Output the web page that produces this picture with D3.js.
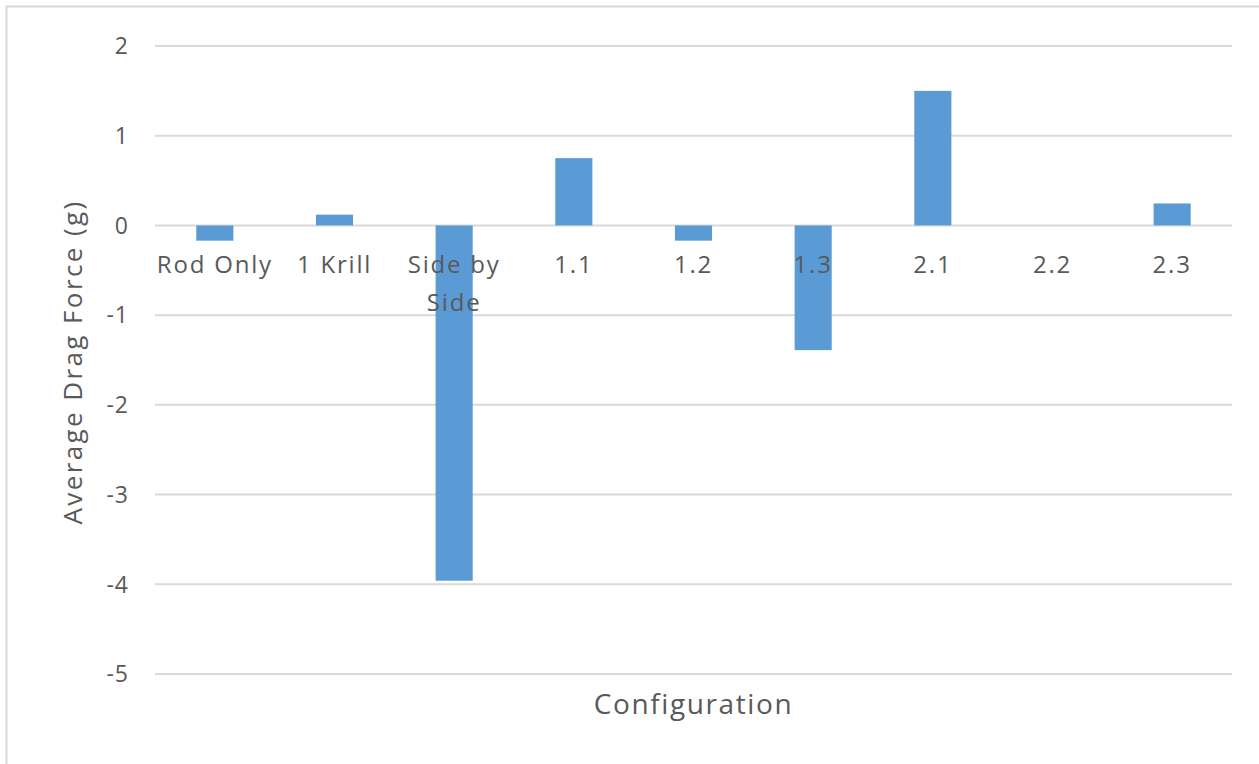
<!DOCTYPE html>
<html>
<head>
<meta charset="utf-8">
<script src="https://cdn.jsdelivr.net/npm/d3@7"></script>
<style>
  html, body { margin: 0; padding: 0; background: #fff; }
  svg { display: block; }
</style>
</head>
<body>
<svg id="chart"></svg>
<script>
// data
const categories = ["Rod Only", "1 Krill", "Side by Side", "1.1", "1.2", "1.3", "2.1", "2.2", "2.3"];
const dragForce = [-0.17, 0.12, -3.96, 0.75, -0.17, -1.39, 1.50, 0, 0.245];
const yTicks = [2, 1, 0, -1, -2, -3, -4, -5];

const width = 1259, height = 764;
const margin = { top: 46, right: 27, bottom: 90, left: 155 };

const font = "'Open Sans', 'Noto Sans', sans-serif";
const textColor = "#595959";

const svg = d3.select("#chart")
    .attr("width", width)
    .attr("height", height)
    .style("font-family", font);

// outer chart frame
svg.append("rect")
    .attr("x", 6.5).attr("y", 6.5)
    .attr("width", width + 20).attr("height", height + 20)
    .attr("fill", "#fff")
    .attr("stroke", "#d9d9d9")
    .attr("stroke-width", 2);

const x = d3.scaleBand()
    .domain(categories)
    .range([margin.left, width - margin.right])
    .paddingInner(0.69)
    .paddingOuter(0.345);

const y = d3.scaleLinear()
    .domain([-5, 2])
    .range([height - margin.bottom, margin.top]);

// gridlines
svg.append("g")
    .selectAll("line")
    .data(yTicks)
    .join("line")
    .attr("x1", margin.left)
    .attr("x2", width - margin.right)
    .attr("y1", d => y(d))
    .attr("y2", d => y(d))
    .attr("stroke", "#d9d9d9")
    .attr("stroke-width", 2);

// y tick labels
svg.append("g")
    .attr("text-anchor", "end")
    .selectAll("text")
    .data(yTicks)
    .join("text")
    .attr("x", 129)
    .attr("y", d => y(d))
    .attr("dy", "0.36em")
    .attr("fill", textColor)
    .style("font-size", "23px")
    .style("letter-spacing", "1px")
    .text(d => d < 0 ? "-" + Math.abs(d) : d);

// bars
svg.append("g")
    .attr("fill", "#5b9bd5")
    .selectAll("rect")
    .data(categories)
    .join("rect")
    .attr("x", d => x(d))
    .attr("width", x.bandwidth())
    .attr("y", (d, i) => y(Math.max(0, dragForce[i])))
    .attr("height", (d, i) => Math.abs(y(dragForce[i]) - y(0)));

// category labels next to the zero line, wrapped to the band step
const catLabels = svg.append("g")
    .attr("text-anchor", "middle")
    .attr("fill", textColor)
    .style("font-size", "24px")
    .style("letter-spacing", "1.8px")
    .selectAll("text")
    .data(categories)
    .join("text")
    .attr("x", d => x(d) + x.bandwidth() / 2)
    .attr("y", y(0) + 48);

catLabels.each(function(d) {
    const el = d3.select(this);
    const words = d.split(" ");
    let line = [];
    let tspan = el.append("tspan").attr("x", el.attr("x")).attr("dy", 0);
    words.forEach(w => {
        line.push(w);
        tspan.text(line.join(" "));
        if (tspan.node().getComputedTextLength() > x.step() && line.length > 1) {
            line.pop();
            tspan.text(line.join(" "));
            line = [w];
            tspan = el.append("tspan").attr("x", el.attr("x")).attr("dy", 38).text(w);
        }
    });
});

// axis titles
svg.append("text")
    .attr("x", (margin.left + width - margin.right) / 2)
    .attr("y", 714)
    .attr("text-anchor", "middle")
    .attr("fill", textColor)
    .style("font-size", "28px")
    .style("letter-spacing", "1.6px")
    .text("Configuration");

svg.append("text")
    .attr("transform", `translate(82, 362) rotate(-90)`)
    .attr("text-anchor", "middle")
    .attr("fill", textColor)
    .style("font-size", "26px")
    .style("letter-spacing", "2.4px")
    .text("Average Drag Force (g)");
</script>
</body>
</html>
